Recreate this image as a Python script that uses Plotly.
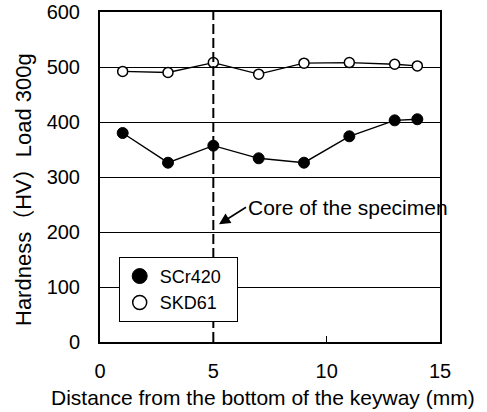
import plotly.graph_objects as go

# Hardness profile measured from the bottom of the keyway
distance_mm = [1, 3, 5, 7, 9, 11, 13, 14]
scr420_hv = [380, 326, 357, 334, 326, 374, 403, 405]
skd61_hv = [492, 490, 508, 487, 507, 508, 505, 502]

core_position_mm = 5
core_arrow_target = (5.25, 214)

x_ticks = [0, 5, 10, 15]
y_ticks = [0, 100, 200, 300, 400, 500, 600]

FONT = "Liberation Sans, Arial, Noto Sans CJK JP, sans-serif"
PAD = "\u00a0\u00a0"  # keeps the legend box a little wider than its text

fig = go.Figure()

# connecting lines (kept out of the legend)
for ys in (scr420_hv, skd61_hv):
    fig.add_trace(go.Scatter(
        x=distance_mm, y=ys, mode="lines",
        line=dict(color="black", width=1.4),
        showlegend=False, hoverinfo="skip",
    ))

# markers
fig.add_trace(go.Scatter(
    x=distance_mm, y=scr420_hv, mode="markers", name="SCr420",
    marker=dict(symbol="circle", size=11, color="black",
                line=dict(color="black", width=1)),
    showlegend=False,
))
fig.add_trace(go.Scatter(
    x=distance_mm, y=skd61_hv, mode="markers", name="SKD61",
    marker=dict(symbol="circle", size=10, color="white",
                line=dict(color="black", width=1.5)),
    showlegend=False,
))

# legend entries with larger symbols
fig.add_trace(go.Scatter(
    x=[None], y=[None], mode="markers", name="SCr420" + PAD,
    marker=dict(symbol="circle", size=15, color="black",
                line=dict(color="black", width=1)),
))
fig.add_trace(go.Scatter(
    x=[None], y=[None], mode="markers", name="SKD61",
    marker=dict(symbol="circle", size=14, color="white",
                line=dict(color="black", width=1.5)),
))

# dashed line at the core of the specimen
fig.add_shape(
    type="line", xref="x", yref="paper",
    x0=core_position_mm, x1=core_position_mm, y0=0, y1=1,
    line=dict(color="black", width=2, dash="10px,4px"),
)

fig.add_annotation(
    x=core_arrow_target[0], y=core_arrow_target[1], xref="x", yref="y",
    text="Core of the specimen", showarrow=True,
    ax=27, ay=-17, xanchor="left", yanchor="middle",
    arrowhead=2, arrowsize=1.4, arrowwidth=1.6, arrowcolor="black",
    font=dict(family=FONT, size=21, color="black"),
)

# axis titles
fig.add_annotation(
    x=0.479, y=-0.168, xref="paper", yref="paper",
    text="Distance from the bottom of the keyway (mm)", showarrow=False,
    xanchor="center", yanchor="middle",
    font=dict(family=FONT, size=21, color="black"),
)
fig.add_annotation(
    x=-0.2265, y=0.4636, xref="paper", yref="paper",
    text="Hardness（HV）Load 300g", showarrow=False, textangle=-90,
    xanchor="center", yanchor="middle",
    font=dict(family=FONT, size=22, color="black"),
)

fig.update_xaxes(
    range=[0, 15], tickvals=x_ticks, ticktext=[str(v) for v in x_ticks],
    showgrid=False, zeroline=False, automargin=False,
    showline=True, linecolor="black", linewidth=2, mirror=True,
    ticks="inside", ticklen=6, tickcolor="black", tickwidth=1,
    ticklabelstandoff=10,
    tickfont=dict(family=FONT, size=20, color="black"),
)
fig.update_yaxes(
    range=[0, 600], tickvals=y_ticks, ticktext=[str(v) for v in y_ticks],
    showgrid=True, gridcolor="black", gridwidth=1, zeroline=False,
    automargin=False,
    showline=True, linecolor="black", linewidth=2, mirror=True,
    ticks="", ticklabelstandoff=14,
    tickfont=dict(family=FONT, size=20, color="black"),
)

fig.update_layout(
    width=487, height=412,
    margin=dict(l=100, r=47, t=12, b=70, autoexpand=False),
    paper_bgcolor="white", plot_bgcolor="white",
    font=dict(family=FONT, color="black"),
    legend=dict(
        x=0.055, y=0.258, xanchor="left", yanchor="top",
        bgcolor="white", bordercolor="black", borderwidth=1,
        font=dict(family=FONT, size=18, color="black"),
        tracegroupgap=0,
    ),
)

fig.write_html("out.html")
